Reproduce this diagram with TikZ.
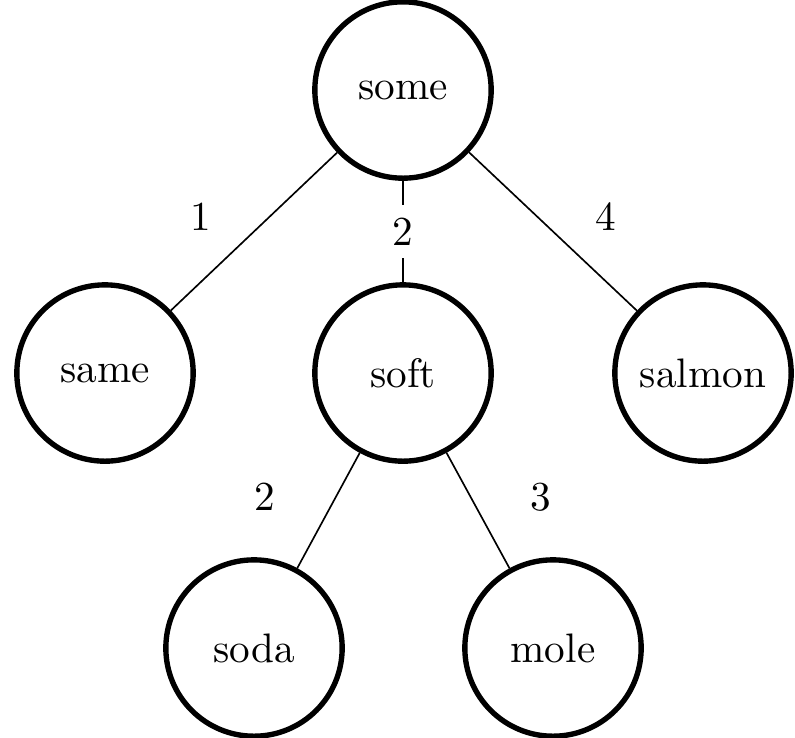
\documentclass[tikz,border=0pt]{standalone}
\begin{document}
\begin{tikzpicture}[x=0.2427pt,y=-0.2427pt,
  word/.style={circle,draw,line width=1.3pt,minimum size=42.8pt,inner sep=0pt},
  edge/.style={line width=0.4pt},
  lab/.style={inner sep=1pt}]
\useasboundingbox (0,0) rectangle (795,737);
\node[word] (some) at (403,90) {some};
\node[word] (same) at (105,373) {same};
\node[word] (soft) at (403,373) {soft};
\node[word] (salmon) at (703,373) {salmon};
\node[word] (soda) at (254,648) {soda};
\node[word] (mole) at (553,648) {mole};
\draw[edge] (some) -- (same);
\draw[edge] (some) -- node[lab,fill=white,inner sep=3pt] (l2a) {2} (soft);
\draw[edge] (some) -- (salmon);
\draw[edge] (soft) -- (soda);
\draw[edge] (soft) -- (mole);
\node[lab] (l1) at (201,217) {1};
\node[lab] (l4) at (606,217) {4};
\node[lab] (l2b) at (265,497) {2};
\node[lab] (l3) at (541,497) {3};
\end{tikzpicture}
\end{document}
